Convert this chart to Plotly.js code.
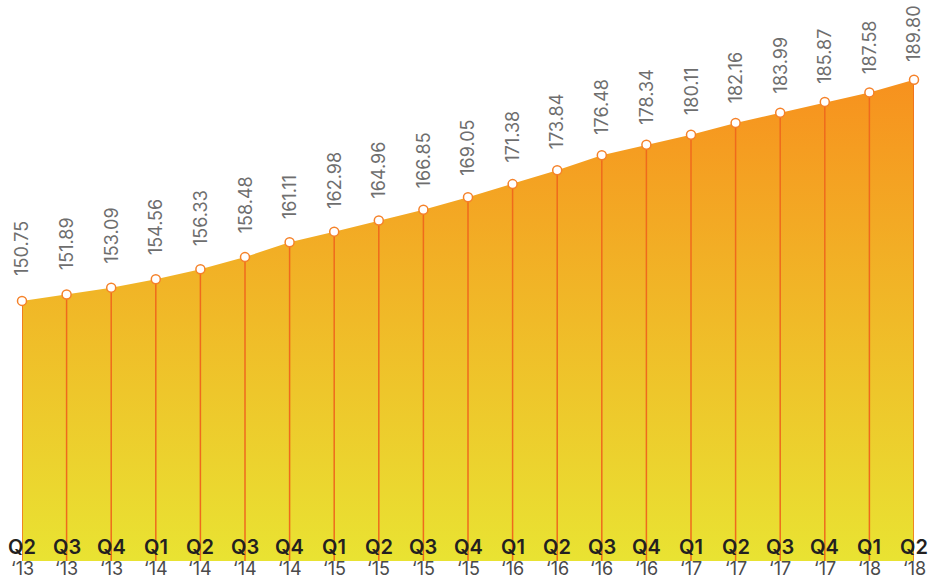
<!DOCTYPE html>
<html>
<head>
<meta charset="utf-8">
<script src="https://cdn.plot.ly/plotly-3.0.1.min.js"></script>
<style>
html,body{margin:0;padding:0;background:#fff;}
#chart{width:936px;height:579px;}
</style>
</head>
<body>
<div id="chart"></div>
<script>
var quarters = ["Q2","Q3","Q4","Q1","Q2","Q3","Q4","Q1","Q2","Q3","Q4","Q1","Q2","Q3","Q4","Q1","Q2","Q3","Q4","Q1","Q2"];
var years = ["\u201813","\u201813","\u201813","\u201814","\u201814","\u201814","\u201814","\u201815","\u201815","\u201815","\u201815","\u201816","\u201816","\u201816","\u201816","\u201817","\u201817","\u201817","\u201817","\u201818","\u201818"];
var values = [150.75,151.89,153.09,154.56,156.33,158.48,161.11,162.98,164.96,166.85,169.05,171.38,173.84,176.48,178.34,180.11,182.16,183.99,185.87,187.58,189.80];

var yMin = 104.8, yMax = 203.9;
var xs = values.map(function(_, i){ return i; });

var area = {
  x: xs, y: values, type: 'scatter', mode: 'lines',
  line: {width: 0, color: '#f6921e'},
  fill: 'tozeroy',
  fillgradient: {
    type: 'vertical',
    start: yMin, stop: 190,
    colorscale: [[0, '#e9e332'], [1, '#f7911e']]
  },
  hoverinfo: 'skip', showlegend: false
};

var stems = {
  x: xs, y: values, type: 'scatter', mode: 'markers',
  marker: {size: 9, color: '#ffffff', line: {color: '#f5822a', width: 1.5}},
  error_y: {
    type: 'data', symmetric: false,
    array: values.map(function(){ return 0; }),
    arrayminus: values.map(function(v){ return v - yMin; }),
    width: 0, thickness: 1.5, color: '#ef6a1c'
  },
  cliponaxis: false, showlegend: false
};

var annotations = [];
values.forEach(function(v, i){
  annotations.push({
    x: i, y: v, xref: 'x', yref: 'y',
    text: v.toFixed(2), textangle: -90,
    showarrow: false, xanchor: 'center', yanchor: 'bottom',
    yshift: 16 + (189.8 - v) * 0.17,
    font: {family: 'Inter, sans-serif', size: 18, weight: 400, color: '#6e6e6e'}
  });
  annotations.push({
    x: i, y: 0, xref: 'x', yref: 'paper',
    text: quarters[i],
    showarrow: false, xanchor: 'center', yanchor: 'middle',
    yshift: 14,
    font: {family: 'Inter, sans-serif', size: 20, weight: 600, color: '#231f20'}
  });
  annotations.push({
    x: i, y: 0, xref: 'x', yref: 'paper',
    text: years[i],
    showarrow: false, xanchor: 'center', yanchor: 'middle',
    yshift: -7,
    font: {family: 'Inter, sans-serif', size: 18, weight: 400, color: '#4a4a4a'}
  });
});

var layout = {
  width: 936, height: 579,
  margin: {l: 22, r: 22, t: 0, b: 18, pad: 0},
  paper_bgcolor: '#ffffff', plot_bgcolor: '#ffffff',
  showlegend: false,
  xaxis: {range: [0, 20], visible: false, showgrid: false, zeroline: false, fixedrange: true},
  yaxis: {range: [yMin, yMax], visible: false, showgrid: false, zeroline: false, fixedrange: true},
  annotations: annotations
};

Plotly.newPlot('chart', [area, stems], layout, {displayModeBar: false, staticPlot: true});
</script>
</body>
</html>
